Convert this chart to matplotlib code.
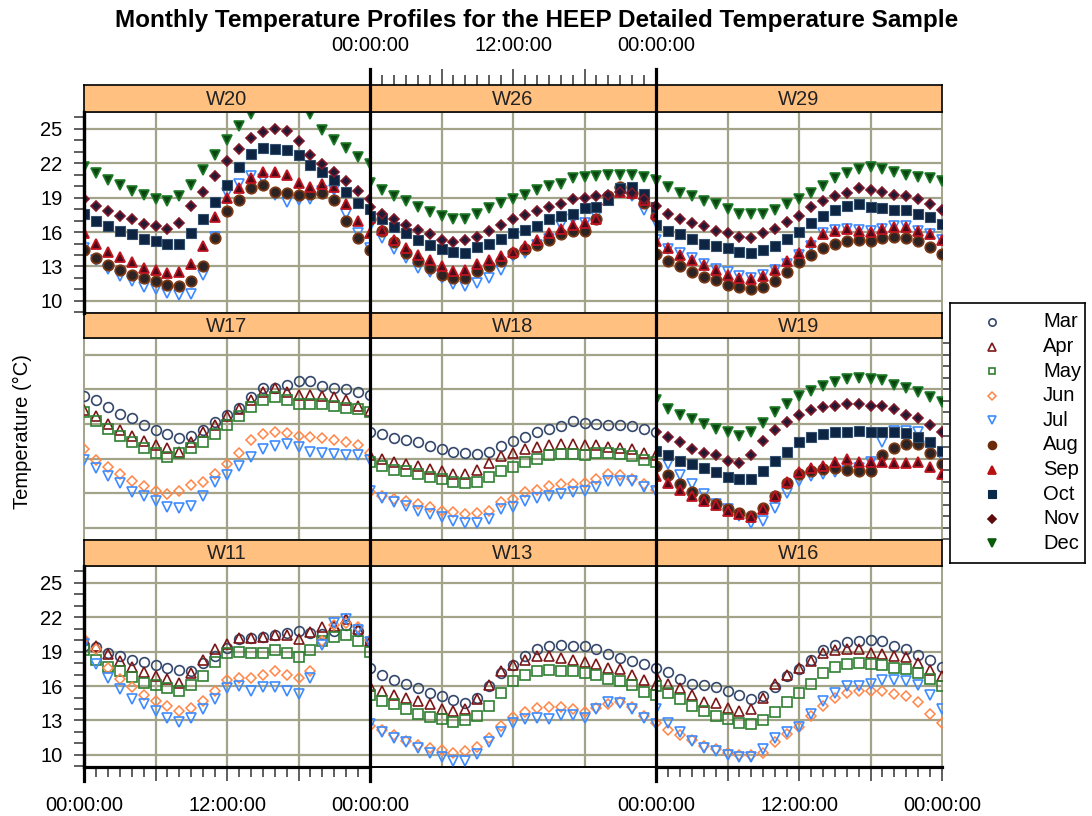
import matplotlib
matplotlib.use("Agg")
import matplotlib.pyplot as plt
from matplotlib.lines import Line2D
from matplotlib.ticker import FixedLocator, MultipleLocator, FuncFormatter

plt.rcParams['font.family'] = ['Liberation Sans', 'DejaVu Sans']

# ---------------------------------------------------------------- data
hours = list(range(25))
months = ['Mar', 'Apr', 'May', 'Jun', 'Jul', 'Aug', 'Sep', 'Oct', 'Nov', 'Dec']

# W20
w20_jul = [14.6, 13.6, 12.8, 12.2, 11.7, 11.2, 11.0, 10.7, 10.5, 10.6, 12.3, 15.6, 19.4, 20.2, 20.9, 20.6, 19.2, 18.6, 18.8, 18.9, 19.6, 19.7, 17.6, 15.9, 14.6]
w20_aug = [14.4, 13.7, 13.1, 12.7, 12.3, 12.0, 11.7, 11.4, 11.3, 11.7, 13.0, 15.5, 17.8, 18.8, 19.8, 20.1, 19.5, 19.4, 19.2, 19.3, 19.4, 18.8, 17.0, 15.5, 14.4]
w20_sep = [15.9, 15.0, 14.3, 13.8, 13.4, 12.9, 12.7, 12.4, 12.5, 13.2, 14.8, 17.3, 19.0, 19.8, 20.7, 21.2, 21.2, 21.0, 20.3, 19.9, 20.2, 19.9, 18.4, 17.0, 15.9]
w20_oct = [17.6, 17.0, 16.5, 16.1, 15.8, 15.4, 15.2, 15.0, 15.0, 15.9, 17.1, 18.6, 20.1, 21.7, 22.8, 23.3, 23.2, 23.1, 22.7, 21.8, 21.2, 20.5, 19.5, 18.5, 18.0]
w20_nov = [18.9, 18.3, 17.8, 17.4, 17.1, 16.7, 16.5, 16.3, 16.8, 18.3, 19.5, 20.9, 22.2, 23.2, 24.2, 24.7, 25.0, 24.8, 23.9, 22.7, 21.9, 21.2, 20.4, 19.6, 18.9]
w20_dec = [21.7, 21.1, 20.5, 20.1, 19.6, 19.2, 18.9, 18.7, 19.1, 20.1, 21.4, 22.7, 24.0, 25.2, 26.3, 27.0, 27.4, 27.3, 26.9, 26.3, 24.9, 24.0, 23.3, 22.5, 21.9]

# W26
w26_jul = [16.5, 15.5, 14.5, 13.7, 12.9, 12.5, 12.0, 11.5, 11.3, 11.6, 12.0, 12.7, 13.9, 14.2, 14.9, 15.4, 16.6, 17.1, 16.8, 17.4, 18.8, 19.5, 19.1, 17.9, 16.9]
w26_aug = [17.1, 16.1, 15.1, 14.2, 13.5, 12.9, 12.3, 12.0, 12.0, 12.6, 13.0, 13.5, 14.2, 14.5, 14.9, 15.3, 15.8, 16.1, 16.1, 17.1, 19.1, 19.9, 19.4, 18.5, 17.4]
w26_sep = [17.2, 16.2, 15.3, 14.6, 14.0, 13.6, 13.0, 12.6, 12.7, 13.2, 13.6, 13.9, 14.3, 14.8, 15.3, 15.9, 16.3, 16.6, 16.8, 17.1, 18.8, 19.5, 19.4, 18.8, 17.6]
w26_oct = [17.4, 17.1, 16.4, 15.9, 15.3, 14.9, 14.5, 14.3, 14.2, 14.7, 15.0, 15.4, 15.9, 16.2, 16.5, 17.1, 17.4, 17.6, 18.1, 18.2, 18.8, 19.8, 19.9, 19.3, 18.2]
w26_nov = [18.2, 17.6, 17.1, 16.6, 16.2, 15.8, 15.3, 15.1, 15.3, 15.6, 16.1, 16.6, 17.1, 17.5, 17.8, 18.2, 18.4, 18.9, 19.0, 19.1, 19.2, 19.5, 19.4, 18.9, 18.3]
w26_dec = [20.3, 19.7, 19.1, 18.7, 18.2, 17.7, 17.4, 17.1, 17.1, 17.6, 18.1, 18.5, 18.9, 19.2, 19.7, 20.0, 20.2, 20.7, 20.8, 20.9, 21.0, 21.0, 21.0, 20.8, 20.5]

# W29
w29_jul = [15.3, 14.5, 14.2, 13.7, 13.2, 12.8, 12.5, 12.2, 12.0, 12.3, 12.7, 13.2, 14.0, 14.8, 15.9, 16.2, 16.3, 16.2, 16.1, 16.3, 16.5, 16.5, 16.1, 15.8, 15.3]
w29_aug = [14.1, 13.5, 13.0, 12.5, 12.1, 11.8, 11.4, 11.2, 11.0, 11.2, 11.7, 12.5, 13.4, 14.0, 14.6, 15.0, 15.2, 15.3, 15.2, 15.5, 15.6, 15.5, 15.2, 14.7, 14.1]
w29_sep = [15.2, 14.6, 14.0, 13.6, 13.1, 12.7, 12.3, 12.0, 11.9, 12.2, 12.7, 13.5, 14.2, 15.1, 15.8, 16.1, 16.3, 16.1, 16.0, 16.3, 16.4, 16.4, 16.1, 15.8, 15.3]
w29_oct = [16.6, 16.1, 15.8, 15.4, 15.0, 14.8, 14.6, 14.3, 14.2, 14.4, 14.8, 15.4, 16.0, 16.8, 17.4, 17.9, 18.3, 18.4, 18.2, 18.1, 17.9, 17.9, 17.6, 17.3, 16.7]
w29_nov = [18.3, 17.6, 17.1, 16.8, 16.5, 16.1, 15.9, 15.6, 15.5, 15.9, 16.3, 16.9, 17.4, 18.2, 18.7, 19.1, 19.4, 19.8, 19.7, 19.5, 19.2, 19.1, 18.9, 18.4, 17.9]
w29_dec = [20.4, 19.9, 19.4, 19.1, 18.7, 18.4, 18.0, 17.6, 17.6, 17.6, 17.9, 18.4, 18.9, 19.4, 20.0, 20.7, 21.1, 21.5, 21.7, 21.5, 21.2, 21.0, 20.8, 20.7, 20.4]

# W17
w17_mar = [21.4, 21.1, 20.5, 19.9, 19.5, 18.9, 18.5, 18.1, 17.8, 18.0, 18.5, 19.2, 19.8, 20.4, 21.3, 22.1, 22.1, 22.4, 22.7, 22.7, 22.3, 22.1, 22.0, 21.8, 21.5]
w17_apr = [20.2, 19.7, 19.0, 18.5, 18.0, 17.5, 17.2, 16.9, 16.6, 17.4, 18.3, 18.9, 19.7, 20.3, 21.1, 21.8, 22.1, 21.8, 21.5, 21.5, 21.4, 21.3, 21.1, 20.6, 20.1]
w17_may = [20.0, 19.3, 18.6, 18.0, 17.4, 16.9, 16.5, 16.1, 16.5, 16.9, 17.4, 18.1, 18.9, 19.7, 20.5, 21.1, 21.3, 21.1, 20.7, 20.7, 20.7, 20.6, 20.4, 20.3, 20.0]
w17_jun = [16.8, 15.9, 15.3, 14.7, 14.1, 13.6, 13.2, 12.9, 13.2, 13.7, 14.0, 14.7, 15.5, 16.5, 17.6, 18.1, 18.3, 18.2, 18.0, 17.9, 17.8, 17.6, 17.4, 17.2, 16.5]
w17_jul = [15.9, 15.2, 14.5, 13.9, 13.1, 12.8, 12.3, 11.8, 11.7, 11.9, 12.8, 14.0, 14.6, 15.4, 16.1, 16.8, 17.1, 17.3, 17.0, 16.6, 16.5, 16.4, 16.3, 16.3, 15.9]

# W18
w18_mar = [18.3, 18.1, 17.8, 17.6, 17.4, 17.1, 16.8, 16.6, 16.5, 16.4, 16.6, 17.1, 17.5, 17.9, 18.3, 18.6, 18.8, 19.3, 19.1, 19.0, 18.9, 18.9, 18.8, 18.6, 18.3]
w18_apr = [16.3, 16.0, 15.7, 15.5, 15.4, 15.1, 14.9, 14.7, 14.7, 15.0, 15.6, 16.2, 16.5, 16.8, 17.0, 17.2, 17.3, 17.3, 17.2, 17.2, 17.0, 16.9, 16.8, 16.5, 16.3]
w18_may = [15.7, 15.4, 15.0, 14.9, 14.7, 14.4, 14.2, 14.0, 13.9, 14.0, 14.4, 14.9, 15.3, 15.7, 16.0, 16.3, 16.4, 16.4, 16.3, 16.5, 16.5, 16.4, 16.2, 15.9, 15.7]
w18_jun = [13.1, 12.8, 12.5, 12.3, 12.1, 11.8, 11.5, 11.4, 11.2, 11.3, 11.5, 12.2, 12.5, 13.1, 13.3, 13.6, 13.8, 13.8, 13.9, 14.2, 14.7, 14.6, 14.2, 13.8, 13.3]
w18_jul = [13.2, 12.6, 12.2, 11.9, 11.5, 11.2, 10.9, 10.6, 10.4, 10.4, 10.8, 11.6, 11.8, 12.3, 12.6, 12.8, 12.9, 13.1, 13.2, 13.5, 14.1, 14.1, 14.1, 13.5, 13.2]

# W19
w19_jul = [16.5, 15.5, 14.6, 13.8, 12.9, 12.1, 11.6, 11.0, 10.4, 10.6, 11.7, 13.0, 14.1, 14.5, 14.7, 14.8, 14.9, 15.2, 15.7, 17.4, 18.4, 18.4, 18.3, 17.1, 16.1]
w19_aug = [15.4, 14.6, 13.8, 13.1, 12.5, 12.1, 11.6, 11.3, 11.0, 11.7, 12.8, 13.9, 14.7, 14.9, 15.1, 15.2, 15.0, 14.9, 14.9, 16.3, 16.9, 17.3, 17.3, 16.5, 15.5]
w19_sep = [14.5, 13.9, 13.3, 12.8, 12.3, 12.0, 11.5, 11.2, 10.9, 11.6, 12.8, 14.0, 14.8, 15.2, 15.4, 15.7, 16.0, 15.7, 15.7, 15.7, 15.6, 15.6, 15.7, 15.3, 14.7]
w19_oct = [16.7, 16.3, 15.8, 15.5, 15.2, 14.8, 14.4, 14.2, 14.2, 14.9, 15.8, 16.6, 17.4, 17.9, 18.1, 18.3, 18.3, 18.4, 18.3, 18.3, 18.3, 18.2, 17.9, 17.4, 16.7]
w19_nov = [18.3, 17.9, 17.4, 16.8, 16.5, 16.3, 15.8, 15.6, 16.3, 17.5, 18.5, 19.2, 19.8, 20.2, 20.5, 20.6, 20.7, 20.7, 20.6, 20.6, 20.3, 19.8, 19.5, 18.9, 18.3]
w19_dec = [21.1, 20.3, 19.8, 19.4, 19.0, 18.6, 18.3, 18.0, 18.3, 19.1, 20.0, 20.7, 21.4, 21.9, 22.3, 22.6, 22.9, 23.0, 22.9, 22.8, 22.4, 22.1, 21.8, 21.3, 20.9]

# W11
w11_mar = [19.5, 19.4, 18.9, 18.6, 18.3, 18.1, 17.8, 17.6, 17.4, 17.3, 18.0, 18.6, 19.3, 20.1, 20.2, 20.3, 20.4, 20.6, 20.8, 20.6, 20.5, 20.8, 21.3, 20.8, 19.9]
w11_apr = [20.1, 19.5, 18.8, 18.2, 17.7, 17.2, 16.9, 16.6, 16.3, 17.1, 18.3, 19.2, 19.7, 20.2, 20.2, 20.3, 20.4, 20.4, 20.1, 20.7, 21.1, 21.2, 21.8, 21.0, 19.9]
w11_may = [19.1, 18.3, 17.7, 17.3, 16.8, 16.3, 16.1, 15.8, 15.6, 16.1, 16.9, 18.1, 18.9, 19.0, 18.9, 18.9, 19.1, 18.9, 18.5, 19.1, 19.9, 20.3, 20.4, 19.9, 19.0]
w11_jun = [20.1, 19.2, 17.6, 16.6, 15.9, 15.2, 14.7, 14.3, 13.8, 14.1, 14.7, 15.6, 16.5, 16.7, 16.7, 17.0, 17.3, 17.0, 16.7, 17.3, 19.9, 21.3, 21.5, 21.1, 20.0]
w11_jul = [19.7, 17.9, 16.7, 15.7, 14.9, 14.4, 13.8, 13.2, 12.9, 13.2, 14.0, 14.9, 15.8, 16.0, 15.6, 15.9, 15.9, 15.6, 15.3, 16.7, 19.6, 21.5, 21.8, 20.9, 19.8]

# W13
w13_mar = [17.6, 17.0, 16.5, 16.2, 15.8, 15.4, 15.1, 14.8, 14.5, 15.0, 16.0, 17.1, 17.8, 18.6, 19.2, 19.5, 19.6, 19.5, 19.5, 19.2, 18.8, 18.4, 18.2, 17.9, 17.6]
w13_apr = [16.0, 15.6, 15.2, 15.0, 14.7, 14.4, 14.0, 13.8, 14.0, 14.9, 16.1, 17.3, 17.8, 18.3, 18.6, 18.6, 18.4, 18.3, 18.1, 17.9, 17.6, 17.5, 17.0, 16.5, 16.1]
w13_may = [15.2, 14.7, 14.4, 14.0, 13.6, 13.3, 13.1, 12.9, 13.0, 13.4, 14.3, 15.4, 16.4, 17.0, 17.3, 17.4, 17.3, 17.3, 17.1, 17.0, 16.6, 16.4, 16.1, 15.5, 15.2]
w13_jun = [12.5, 12.2, 11.7, 11.2, 10.9, 10.6, 10.4, 10.2, 10.3, 10.7, 11.5, 12.5, 13.3, 13.7, 14.1, 14.2, 14.2, 14.0, 13.7, 14.1, 14.4, 14.6, 14.2, 13.4, 12.8]
w13_jul = [12.7, 12.0, 11.5, 11.1, 10.6, 10.2, 9.8, 9.5, 9.5, 10.1, 11.1, 12.0, 12.8, 13.1, 13.2, 13.1, 13.5, 13.5, 13.2, 14.0, 14.6, 14.5, 14.0, 13.2, 12.7]

# W16
w16_mar = [17.6, 17.2, 16.6, 16.2, 16.1, 15.9, 15.6, 15.2, 14.9, 15.1, 15.9, 16.9, 17.5, 18.3, 19.1, 19.6, 19.8, 19.9, 20.0, 19.9, 19.5, 19.2, 18.7, 18.3, 17.7]
w16_apr = [16.9, 16.2, 15.8, 15.2, 14.6, 14.5, 14.1, 13.8, 14.0, 15.0, 16.2, 17.0, 17.6, 18.2, 18.9, 19.1, 19.2, 19.2, 18.9, 18.8, 18.6, 18.5, 18.0, 17.4, 16.9]
w16_may = [16.0, 15.4, 14.9, 14.3, 13.8, 13.4, 13.1, 12.8, 12.7, 13.0, 13.7, 14.6, 15.4, 16.2, 17.1, 17.7, 17.9, 18.0, 17.9, 17.8, 17.6, 17.5, 17.1, 16.6, 16.0]
w16_jun = [12.8, 12.2, 11.7, 11.3, 10.8, 10.5, 10.2, 10.0, 10.0, 10.2, 11.1, 11.8, 12.4, 13.4, 14.3, 15.0, 15.4, 15.6, 15.6, 15.6, 15.3, 15.1, 14.6, 13.6, 12.8]
w16_jul = [14.0, 12.8, 12.0, 11.2, 10.6, 10.3, 10.0, 9.8, 9.8, 10.5, 11.5, 12.0, 12.4, 13.6, 14.7, 15.4, 16.0, 16.0, 16.2, 16.5, 16.5, 16.4, 16.1, 15.2, 14.0]

y_ticks = [10, 13, 16, 19, 22, 25]
x_ticks = [0, 6, 12, 18, 24]
x_tick_labels = {0: '00:00:00', 12: '12:00:00', 24: '00:00:00'}

panels = [
    ['W20', {'Jul': w20_jul, 'Aug': w20_aug, 'Sep': w20_sep, 'Oct': w20_oct, 'Nov': w20_nov, 'Dec': w20_dec}],
    ['W26', {'Jul': w26_jul, 'Aug': w26_aug, 'Sep': w26_sep, 'Oct': w26_oct, 'Nov': w26_nov, 'Dec': w26_dec}],
    ['W29', {'Jul': w29_jul, 'Aug': w29_aug, 'Sep': w29_sep, 'Oct': w29_oct, 'Nov': w29_nov, 'Dec': w29_dec}],
    ['W17', {'Mar': w17_mar, 'Apr': w17_apr, 'May': w17_may, 'Jun': w17_jun, 'Jul': w17_jul}],
    ['W18', {'Mar': w18_mar, 'Apr': w18_apr, 'May': w18_may, 'Jun': w18_jun, 'Jul': w18_jul}],
    ['W19', {'Jul': w19_jul, 'Aug': w19_aug, 'Sep': w19_sep, 'Oct': w19_oct, 'Nov': w19_nov, 'Dec': w19_dec}],
    ['W11', {'Mar': w11_mar, 'Apr': w11_apr, 'May': w11_may, 'Jun': w11_jun, 'Jul': w11_jul}],
    ['W13', {'Mar': w13_mar, 'Apr': w13_apr, 'May': w13_may, 'Jun': w13_jun, 'Jul': w13_jul}],
    ['W16', {'Mar': w16_mar, 'Apr': w16_apr, 'May': w16_may, 'Jun': w16_jun, 'Jul': w16_jul}],
]

# ---------------------------------------------------------------- styles
styles = {
    'Mar': dict(marker='o', ms=7.0, mfc='none', mec='#34486c', mew=1.2),
    'Apr': dict(marker='^', ms=7.5, mfc='none', mec='#7d1717', mew=1.2),
    'May': dict(marker='s', ms=6.5, mfc='none', mec='#2f7f31', mew=1.2),
    'Jun': dict(marker='D', ms=5.2, mfc='none', mec='#ff8646', mew=1.1),
    'Jul': dict(marker='v', ms=7.5, mfc='none', mec='#3d8bff', mew=1.2),
    'Aug': dict(marker='o', ms=7.5, mfc='#2c2424', mec='#7a3815', mew=1.3),
    'Sep': dict(marker='^', ms=7.5, mfc='#4a0c18', mec='#c01420', mew=1.3),
    'Oct': dict(marker='s', ms=7.0, mfc='#0d2442', mec='#32506e', mew=0.8),
    'Nov': dict(marker='D', ms=5.5, mfc='#221a34', mec='#801828', mew=1.2),
    'Dec': dict(marker='v', ms=7.5, mfc='#0c4512', mec='#1d7a26', mew=1.2),
}
legend_colors = {'Aug': '#6b2a0a', 'Sep': '#b81010', 'Oct': '#0a2a4a',
                 'Nov': '#5c0a0a', 'Dec': '#0a5a0a'}

STRIP = '#ffc080'
GRID = '#a3a38a'
FS = 14.5
W, H = 1092, 816

fig = plt.figure(figsize=(W / 100, H / 100), dpi=100)
fig.patch.set_facecolor('white')


def rect(x0, y0, x1, y1):
    return [x0 / W, 1 - y1 / H, (x1 - x0) / W, (y1 - y0) / H]


col_x = [84, 370, 656]
col_w = 286
rows = [(85, 112, 313), (313, 338, 540), (540, 566, 767)]  # strip top, panel top, panel bottom
YLIM = (8.95, 26.45)


def hms(v, pos=None):
    return x_tick_labels.get(int(round(v)), '')


for idx, (name, series) in enumerate(panels):
    r, c = divmod(idx, 3)
    s_top, p_top, p_bot = rows[r]
    x0 = col_x[c]

    ax = fig.add_axes(rect(x0, p_top, x0 + col_w, p_bot))
    ax.set_xlim(0, 24)
    ax.set_ylim(*YLIM)
    ax.set_facecolor('white')
    for v in y_ticks:
        ax.axhline(v, color=GRID, lw=1.6, zorder=1)
    for h in x_ticks[1:-1]:
        ax.axvline(h, color=GRID, lw=1.6, zorder=1)
    for sp in ax.spines.values():
        sp.set_color(GRID)
        sp.set_linewidth(1.4)

    for m in months:
        if m in series:
            ax.plot(hours, series[m], ls='none', zorder=3, **styles[m])

    ax.tick_params(which='both', left=False, right=False, bottom=False, top=False,
                   labelleft=False, labelbottom=False)

    # y axis on the left for top and bottom rows, on the right for the middle row
    if (c == 0 and r in (0, 2)) or (c == 2 and r == 1):
        ax.yaxis.set_major_locator(FixedLocator(y_ticks))
        ax.yaxis.set_minor_locator(MultipleLocator(1))
        if c == 0:
            ax.tick_params(axis='y', which='both', left=True, direction='out',
                           length=7.5, width=1.1, color='#333333',
                           labelleft=True, labelsize=FS, pad=8)
            ax.spines['left'].set_color('black')
            ax.spines['left'].set_linewidth(2.3)
        else:
            ax.tick_params(axis='y', which='both', right=True, direction='out',
                           length=5, width=1.1, color='#333333', labelright=False)

    # x axis along the bottom of the bottom row (outer columns)
    if r == 2:
        ax.spines['bottom'].set_color('black')
        if c != 1:
            ax.spines['bottom'].set_linewidth(2.3)
            ax.xaxis.set_major_locator(FixedLocator(x_ticks))
            ax.xaxis.set_minor_locator(MultipleLocator(1))
            ax.xaxis.set_major_formatter(FuncFormatter(hms))
            ax.tick_params(axis='x', which='major', bottom=True, direction='out',
                           length=10, width=1.1, color='#333333',
                           labelbottom=True, labelsize=FS, pad=11)
            ax.tick_params(axis='x', which='minor', bottom=True, direction='out',
                           length=7.5, width=1.1, color='#333333')

    # strip
    st = fig.add_axes(rect(x0, s_top, x0 + col_w, p_top))
    st.set_facecolor(STRIP)
    st.set_xlim(0, 24)
    st.set_ylim(0, 1)
    for sp in st.spines.values():
        sp.set_color('black')
        sp.set_linewidth(1.2)
    st.tick_params(which='both', left=False, bottom=False, labelleft=False, labelbottom=False)
    st.text(12, 0.47, name, ha='center', va='center', fontsize=FS, color='#222222')
    if r == 0 and c == 1:
        st.xaxis.set_major_locator(FixedLocator(x_ticks))
        st.xaxis.set_minor_locator(MultipleLocator(1))
        st.xaxis.set_major_formatter(FuncFormatter(hms))
        st.tick_params(axis='x', which='major', top=True, direction='out',
                       length=11.5, width=1.1, color='#333333',
                       labeltop=True, labelsize=FS, pad=10)
        st.tick_params(axis='x', which='minor', top=True, direction='out',
                       length=7.5, width=1.1, color='#333333')

# heavy column separators and outer axis lines
for xs in (370, 656):
    fig.add_artist(Line2D([xs / W, xs / W], [1 - 69 / H, 1 - 781 / H],
                          color='black', lw=2.3, transform=fig.transFigure))
for ya, yb in ((112, 313), (566, 781)):
    fig.add_artist(Line2D([84 / W, 84 / W], [1 - ya / H, 1 - yb / H],
                          color='black', lw=2.3, transform=fig.transFigure))

# title and y label
fig.text(537 / W, 1 - 21 / H,
         'Monthly Temperature Profiles for the HEEP Detailed Temperature Sample',
         ha='center', va='center', fontsize=17.5, fontweight='bold')
fig.text(22 / W, 1 - 432 / H, 'Temperature (°C)', rotation=90,
         ha='center', va='center', fontsize=FS)

# legend box
lg = fig.add_axes(rect(950, 303, 1085, 563))
lg.set_xlim(950, 1085)
lg.set_ylim(563, 303)
lg.set_xticks([])
lg.set_yticks([])
for sp in lg.spines.values():
    sp.set_color('black')
    sp.set_linewidth(1.2)
for i, m in enumerate(months):
    y = 322 + 24.6 * i
    st_ = dict(styles[m])
    st_['ms'] = st_['ms'] * 0.75
    if m in legend_colors:
        st_['mfc'] = legend_colors[m]
        st_['mec'] = legend_colors[m]
    lg.plot([992], [y], ls='none', **st_)
    lg.text(1043, y, m, ha='left', va='center', fontsize=FS)

fig.savefig('out.png', dpi=100)
